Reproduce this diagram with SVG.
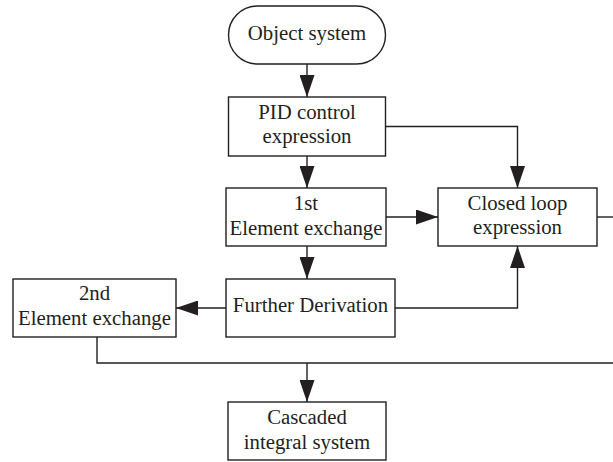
<svg xmlns="http://www.w3.org/2000/svg" width="613" height="462" viewBox="0 0 613 462">
<style>
.box{fill:#fff;stroke:#231f20;stroke-width:1.4}
.ln{fill:none;stroke:#231f20;stroke-width:1.4}
text{font-family:"Liberation Serif","Times New Roman",serif;font-size:20.8px;fill:#231f20;text-anchor:middle}
</style>
<defs>
<marker id="ah" markerUnits="userSpaceOnUse" markerWidth="22" markerHeight="15" refX="22" refY="7.5" orient="auto">
<path d="M0,0 L22,7.5 L0,15 Z" fill="#231f20"/>
</marker>
</defs>
<g id="connectors">
<line class="ln" x1="307" y1="64" x2="307" y2="97" marker-end="url(#ah)"/>
<line class="ln" x1="307" y1="156" x2="307" y2="188" marker-end="url(#ah)"/>
<polyline class="ln" points="386,126.5 517.5,126.5 517.5,188" marker-end="url(#ah)"/>
<line class="ln" x1="386" y1="217" x2="438" y2="217" marker-end="url(#ah)"/>
<line class="ln" x1="597" y1="217" x2="613" y2="217"/>
<line class="ln" x1="307" y1="246" x2="307" y2="279" marker-end="url(#ah)"/>
<polyline class="ln" points="395,308 517.5,308 517.5,246" marker-end="url(#ah)"/>
<line class="ln" x1="226" y1="308" x2="176" y2="308" marker-end="url(#ah)"/>
<polyline class="ln" points="97,337 97,363 613,363"/>
<line class="ln" x1="307" y1="363" x2="307" y2="402" marker-end="url(#ah)"/>
</g>
<g id="object-system">
<rect class="box" x="228.5" y="6" width="157" height="58" rx="29" ry="29"/>
<text x="307" y="40">Object system</text>
</g>
<g id="pid">
<rect class="box" x="228.5" y="97" width="157" height="59"/>
<text x="307" y="119">PID control</text>
<text x="307" y="143">expression</text>
</g>
<g id="first">
<rect class="box" x="226" y="188" width="160" height="58"/>
<text x="306" y="210">1st</text>
<text x="306" y="235">Element exchange</text>
</g>
<g id="closed-loop">
<rect class="box" x="438" y="188" width="159" height="58"/>
<text x="517.5" y="210">Closed loop</text>
<text x="517.5" y="234">expression</text>
</g>
<g id="further">
<rect class="box" x="226" y="279" width="169" height="58"/>
<text x="310.5" y="312">Further Derivation</text>
</g>
<g id="second">
<rect class="box" x="13" y="279" width="163" height="58"/>
<text x="94.5" y="300">2nd</text>
<text x="94.5" y="325">Element exchange</text>
</g>
<g id="cascaded">
<rect class="box" x="228" y="402" width="158" height="58"/>
<text x="307" y="424">Cascaded</text>
<text x="307" y="449">integral system</text>
</g>
</svg>
